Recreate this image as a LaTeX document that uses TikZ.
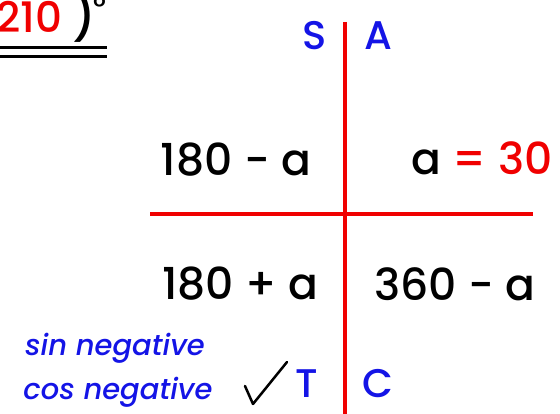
\documentclass[tikz,border=0pt]{standalone}
\usepackage{fontspec}
\setmainfont{Poppins}[UprightFont=* Medium, ItalicFont=* Medium Italic]
\definecolor{myred}{RGB}{240,0,0}
\definecolor{myblue}{RGB}{20,20,230}
\begin{document}
\begin{tikzpicture}[x=1pt,y=-1pt,
  big/.style={font=\fontsize{44}{48}\selectfont, inner sep=0pt, anchor=center},
  quad/.style={font=\fontsize{40}{44}\selectfont, text=myblue, inner sep=0pt},
  note/.style={font=\itshape\fontsize{29}{32}\selectfont, text=myblue, inner sep=0pt},
  axis/.style={draw=myred, line width=4pt}]
\useasboundingbox (0,0) rectangle (560,414);
\coordinate (vt) at (345,22);
\coordinate (vb) at (345,414);
\coordinate (hl) at (150,214);
\coordinate (hr) at (533,214);
\draw[axis] (vt) -- (vb);
\draw[axis] (hl) -- (hr);
\node[quad] (S) at (315,36) {S};
\node[quad] (A) at (378,36) {A};
\node[quad] (T) at (307,384) {T};
\node[quad] (C) at (378,384) {C};
\node[big] (q2) at (236,160) {180 - a};
\node[big] (q1) at (482,158) {a \textcolor{myred}{= 30}};
\node[big] (q3) at (240,284) {180 + a};
\node[big] (q4) at (455,284) {360 - a};
\node[note] (sn) at (115,348) {sin negative};
\node[note] (cn) at (118,392) {cos negative};
\coordinate (c1) at (245,386);
\coordinate (c2) at (253,404);
\coordinate (c3) at (287,362);
\draw[line width=2.5pt, line cap=round, line join=round] (c1) -- (c2) -- (c3);
\node[font=\fontsize{42}{46}\selectfont, inner sep=0pt, anchor=base west, text=myred] (ang) at (-4,33) {210};
\node[font=\fontsize{48}{50}\selectfont, inner sep=0pt, anchor=base west] (par) at (72,34) {)};
\node[font=\fontsize{30}{30}\selectfont, inner sep=0pt, anchor=north west] (deg) at (93,-4) {°};
\coordinate (u1a) at (0,48);
\coordinate (u1b) at (107,48);
\coordinate (u2a) at (0,57);
\coordinate (u2b) at (107,57);
\draw[line width=3pt] (u1a) -- (u1b);
\draw[line width=3pt] (u2a) -- (u2b);
\end{tikzpicture}
\end{document}
